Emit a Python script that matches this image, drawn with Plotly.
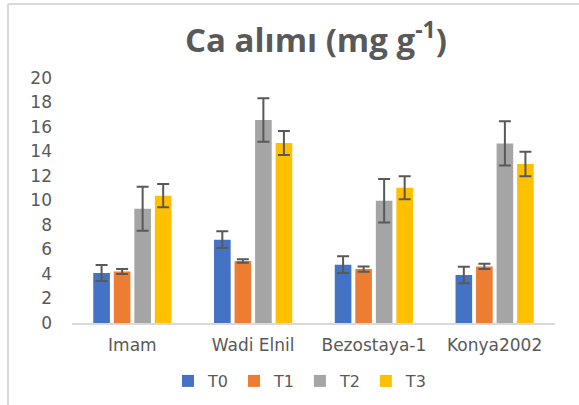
import plotly.graph_objects as go

categories = ["Imam", "Wadi Elnil", "Bezostaya-1", "Konya2002"]
series_names = ["T0", "T1", "T2", "T3"]
T0 = [4.08, 6.80, 4.76, 3.92]
T1 = [4.20, 5.06, 4.40, 4.62]
T2 = [9.33, 16.57, 9.98, 14.66]
T3 = [10.39, 14.69, 11.04, 12.98]
T0_err = [0.65, 0.68, 0.68, 0.67]
T1_err = [0.20, 0.15, 0.22, 0.22]
T2_err = [1.80, 1.78, 1.77, 1.80]
T3_err = [0.95, 0.98, 0.94, 1.00]
y_ticks = [0, 2, 4, 6, 8, 10, 12, 14, 16, 18, 20]

values = [T0, T1, T2, T3]
errors = [T0_err, T1_err, T2_err, T3_err]
colors = ["#4472C4", "#ED7D31", "#A5A5A5", "#FFC000"]

W, H = 579, 405
ml, mr, mt, mb = 72, 24, 78, 82

fig = go.Figure()
for name, v, e, c in zip(series_names, values, errors, colors):
    fig.add_trace(go.Bar(
        name=name, x=categories, y=v,
        marker=dict(color=c, line=dict(width=0)),
        error_y=dict(type="data", array=e, visible=True,
                     color="#595959", thickness=2, width=6),
    ))

font_family = "DejaVu Sans"
fig.update_layout(
    width=W, height=H,
    margin=dict(l=ml, r=mr, t=mt, b=mb, autoexpand=False),
    paper_bgcolor="white", plot_bgcolor="white",
    barmode="group", bargap=0.32, bargroupgap=0.19,
    title=dict(text="<b>Ca alımı (mg g<sup>-1</sup>)</b>",
               x=316 / W, xanchor="center", xref="container",
               y=1 - 40 / H, yanchor="middle", yref="container",
               font=dict(family="Open Sans", size=33, color="#595959")),
    font=dict(family=font_family, color="#595959", size=16),
    showlegend=True,
    legend=dict(orientation="h", x=300 / W, xanchor="center", xref="container",
                y=1 - 381 / H, yanchor="middle", yref="container",
                font=dict(size=16, color="#595959"),
                itemwidth=30, tracegroupgap=0),
    xaxis=dict(showline=True, linecolor="#D9D9D9", linewidth=1.5,
               ticks="", showgrid=False, automargin=False,
               ticklabelstandoff=6,
               tickfont=dict(size=17, color="#595959")),
    yaxis=dict(range=[0, 20], tickvals=y_ticks, showgrid=False,
               showline=False, zeroline=False, ticks="", automargin=False,
               ticklabelstandoff=19,
               tickfont=dict(size=17, color="#595959")),
)

# chart frame (light gray border on top and left)
pw, ph = W - ml - mr, H - mt - mb
fig.add_shape(type="line", xref="paper", yref="paper",
              x0=(8 - ml) / pw, x1=1 + mr / pw,
              y0=1 + (mt - 4) / ph, y1=1 + (mt - 4) / ph,
              line=dict(color="#D9D9D9", width=2))
fig.add_shape(type="line", xref="paper", yref="paper",
              x0=(8 - ml) / pw, x1=(8 - ml) / pw,
              y0=-mb / ph, y1=1 + (mt - 4) / ph,
              line=dict(color="#D9D9D9", width=2))

fig.write_html("out.html", config={"displayModeBar": False},
               post_script="document.body.style.margin='0';")
